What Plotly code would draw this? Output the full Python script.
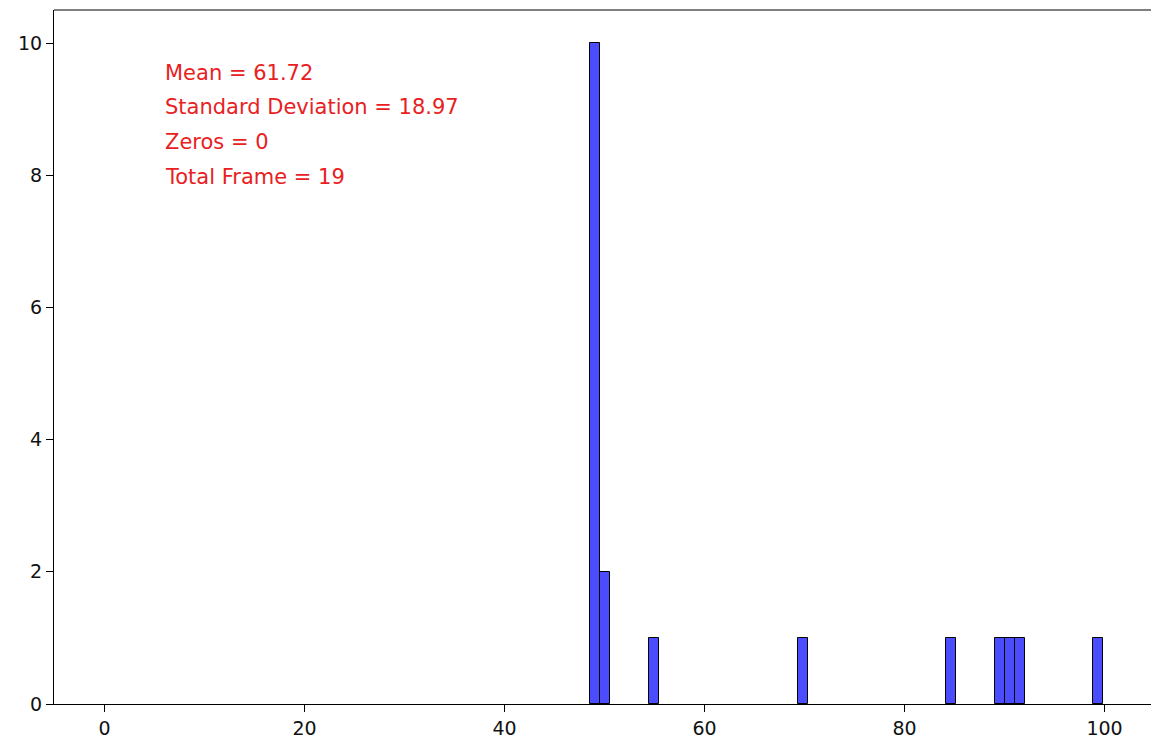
import plotly.graph_objects as go

# Histogram bins (bin centre, count)
bin_centers = [49.0, 50.0, 54.9, 69.8, 84.65, 89.55, 90.55, 91.55, 99.35]
counts = [10, 2, 1, 1, 1, 1, 1, 1, 1]

stat_labels = ["Mean = 61.72", "Standard Deviation = 18.97", "Zeros = 0", "Total Frame = 19"]
stat_y = [9.55, 9.03, 8.50, 7.97]

x_ticks = [0, 20, 40, 60, 80, 100]
y_ticks = [0, 2, 4, 6, 8, 10]

fig = go.Figure()
fig.add_trace(go.Bar(
    x=bin_centers, y=counts, width=1.0,
    marker=dict(color="rgba(0,0,255,0.7)", line=dict(color="black", width=1)),
    showlegend=False,
))

for txt, yy in zip(stat_labels, stat_y):
    fig.add_annotation(x=5.85, y=yy, xref="x", yref="y", text=txt, showarrow=False,
                       xanchor="left", yanchor="middle",
                       font=dict(color="#e8211f", size=21, family="DejaVu Sans"))

fig.add_shape(type="line", xref="paper", yref="paper", x0=0, x1=1, y0=1, y1=1,
              line=dict(color="black", width=1.2))

axis_common = dict(showgrid=False, zeroline=False, showline=True, linecolor="black", linewidth=1.2,
                   ticks="outside", ticklen=7, tickwidth=1, tickcolor="black",
                   tickfont=dict(family="DejaVu Sans", size=19, color="#111111"))
fig.update_xaxes(range=[-5.05, 104.65], tickvals=x_ticks, **axis_common)
fig.update_yaxes(range=[0, 10.5], tickvals=y_ticks, **axis_common)

fig.update_layout(
    width=1151, height=742,
    margin=dict(l=54, r=0, t=10, b=38),
    plot_bgcolor="white", paper_bgcolor="white",
    bargap=0,
)

fig.write_html("out.html", config={"displayModeBar": False},
               post_script="document.body.style.margin='0';document.body.style.overflow='hidden';")
